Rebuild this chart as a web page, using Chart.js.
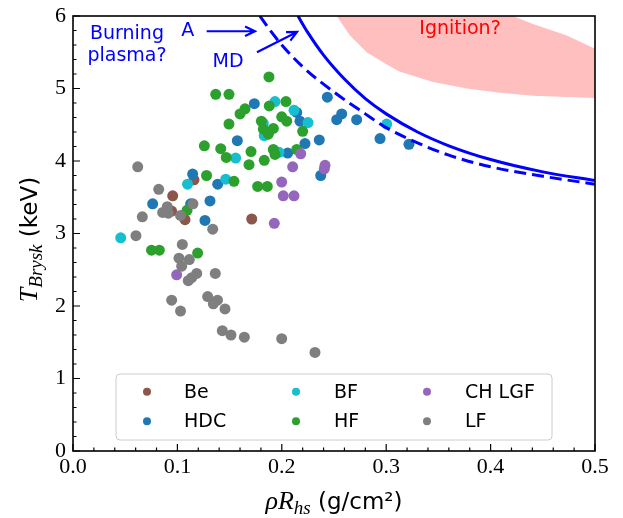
<!DOCTYPE html>
<html>
<head>
<meta charset="utf-8">
<script src="https://cdn.jsdelivr.net/npm/chart.js@4.4.0/dist/chart.umd.min.js"></script>
<style>
  html, body { margin: 0; padding: 0; background: #fff; }
</style>
</head>
<body>
<canvas id="mainChart" width="623" height="518"></canvas>
<script>
// ==================== DATA ====================

// shots, [rhoR (g/cm2), T (keV)]
const beData = [[0.0955,3.52],[0.1159,3.74],[0.0945,3.31],[0.1073,3.19],[0.1712,3.20]];
const hdcData = [[0.0763,3.41],[0.1146,3.82],[0.1127,3.41],[0.1264,3.18],[0.1312,3.45],[0.1386,3.68],
    [0.1574,4.28],[0.1737,4.79],[0.2056,4.11],[0.2143,4.67],[0.2174,4.55],[0.2222,4.24],[0.2359,4.29],
    [0.2373,3.80],[0.2436,4.88],[0.2526,4.57],[0.2574,4.65],[0.2717,4.57],[0.2941,4.31],[0.3218,4.23]];
const bfData = [[0.0457,2.94],[0.1097,3.68],[0.1463,3.75],[0.1558,4.04],[0.1832,4.35],[0.1823,4.52],
    [0.1935,4.82],[0.1973,4.12],[0.2117,4.70],[0.2251,4.53],[0.3005,4.51]];
const hfData = [[0.0752,2.77],[0.0827,2.77],[0.1194,2.73],[0.1092,3.32],[0.1279,3.80],[0.1542,3.72],
    [0.1769,3.65],[0.1861,3.65],[0.1258,4.21],[0.1415,4.17],[0.1468,4.05],[0.1686,3.95],[0.1705,4.13],
    [0.1832,4.01],[0.1494,4.51],[0.1367,4.92],[0.1494,4.92],[0.1877,5.16],[0.1648,4.72],[0.1600,4.65],
    [0.1880,4.76],[0.2040,4.82],[0.1804,4.55],[0.1823,4.44],[0.1871,4.37],[0.1919,4.45],[0.1999,4.61],
    [0.2047,4.55],[0.2200,4.41],[0.1919,4.16],[0.1935,4.09],[0.2143,4.16]];
const lgfData = [[0.0993,2.43],[0.1928,3.14],[0.1999,3.71],[0.2014,3.52],[0.2117,3.52],[0.2104,3.92],
    [0.2181,4.10],[0.2407,3.89],[0.2414,3.94]];
const lfData = [[0.0620,3.92],[0.0821,3.61],[0.0859,3.29],[0.0903,3.37],[0.0913,3.28],[0.1030,3.25],
    [0.0664,3.23],[0.1149,3.41],[0.1338,3.06],[0.0603,2.97],[0.1047,2.85],[0.1015,2.66],[0.1114,2.64],
    [0.1041,2.55],[0.1185,2.45],[0.1137,2.39],[0.1104,2.35],[0.1363,2.45],[0.0945,2.08],[0.1030,1.93],
    [0.1290,2.13],[0.1384,2.08],[0.1344,2.03],[0.1456,1.96],[0.1430,1.66],[0.1513,1.60],[0.1641,1.57],
    [0.1999,1.55],[0.2318,1.36]];

// threshold curves
const mdX = [0.2155, 0.225, 0.24, 0.26, 0.28, 0.30, 0.33, 0.36, 0.40, 0.45, 0.50];
const mdY = [6.0, 5.77, 5.46, 5.13, 4.86, 4.65, 4.40, 4.21, 4.02, 3.85, 3.73];
const aX = [0.179, 0.19, 0.20, 0.22, 0.25, 0.28, 0.30, 0.33, 0.36, 0.40, 0.45, 0.50];
const aY = [6.0, 5.78, 5.6, 5.3, 4.95, 4.65, 4.46, 4.25, 4.08, 3.92, 3.79, 3.68];

// ignition band edges
const ignLowX = [0.2526, 0.2653, 0.2813, 0.3005, 0.3132, 0.3448, 0.3771, 0.409, 0.4406, 0.5];
const ignLowY = [6.0, 5.73, 5.50, 5.33, 5.23, 5.09, 5.00, 4.94, 4.90, 4.87];
const ignHighX = [0.5, 0.473, 0.4406, 0.4215];
const ignHighY = [5.55, 5.73, 5.89, 6.0];

// axes
const xTicks = [0, 0.1, 0.2, 0.3, 0.4, 0.5];
const xTickLabels = ['0.0', '0.1', '0.2', '0.3', '0.4', '0.5'];
const yTicks = [0, 1, 2, 3, 4, 5, 6];
const yTickLabels = ['0', '1', '2', '3', '4', '5', '6'];

// legend
const groupLabels = ['Be', 'HDC', 'BF', 'HF', 'CH LGF', 'LF'];
const groupColors = ['#8c564b', '#1f77b4', '#17becf', '#2ca02c', '#9467bd', '#7f7f7f'];
const groupData = [beData, hdcData, bfData, hfData, lgfData, lfData];
const groupOrder = [6, 5, 4, 3, 2, 1];   // LF on top

const toPts = arr => arr.map(p => ({ x: p[0], y: p[1] }));
const zipPts = (xs, ys) => xs.map((v, i) => ({ x: v, y: ys[i] }));

const ignPolygon = zipPts(ignLowX, ignLowY).concat(zipPts(ignHighX, ignHighY));

const SERIF = '"Liberation Serif", "DejaVu Serif", serif';
const SANS = '"DejaVu Sans", sans-serif';

// ==================== HELPERS ====================

function runsWidth(ctx, runs) {
    let w = 0;
    runs.forEach(r => { ctx.font = r.font; w += ctx.measureText(r.text).width; });
    return w;
}

function drawRuns(ctx, runs, cx, cy) {
    let x = cx - runsWidth(ctx, runs) / 2;
    ctx.textAlign = 'left';
    ctx.textBaseline = 'alphabetic';
    runs.forEach(r => {
        ctx.font = r.font;
        ctx.fillText(r.text, x, cy + (r.dy || 0));
        x += ctx.measureText(r.text).width;
    });
}

function arrow(ctx, x1, y1, x2, y2) {
    const ang = Math.atan2(y2 - y1, x2 - x1);
    const len = 11, spread = 0.45;
    ctx.beginPath();
    ctx.moveTo(x1, y1);
    ctx.lineTo(x2, y2);
    ctx.moveTo(x2 - len * Math.cos(ang - spread), y2 - len * Math.sin(ang - spread));
    ctx.lineTo(x2, y2);
    ctx.lineTo(x2 - len * Math.cos(ang + spread), y2 - len * Math.sin(ang + spread));
    ctx.stroke();
}

// ==================== DECORATIONS ====================

const decor = {
    id: 'decor',
    afterDatasetsDraw(chart) {
        const { ctx, chartArea: a, scales: { x, y } } = chart;
        ctx.save();

        // annotations
        ctx.fillStyle = '#0000ff';
        ctx.strokeStyle = '#0000ff';
        ctx.lineWidth = 2.2;
        ctx.font = '19px ' + SANS;
        ctx.textAlign = 'center';
        ctx.textBaseline = 'middle';
        ctx.fillText('Burning', x.getPixelForValue(0.0517), y.getPixelForValue(5.75));
        ctx.fillText('plasma?', x.getPixelForValue(0.0517), y.getPixelForValue(5.45));
        ctx.fillText('A', x.getPixelForValue(0.110), y.getPixelForValue(5.79));
        ctx.fillText('MD', x.getPixelForValue(0.1485), y.getPixelForValue(5.36));
        arrow(ctx, x.getPixelForValue(0.128), y.getPixelForValue(5.79),
            x.getPixelForValue(0.1743), y.getPixelForValue(5.79));
        arrow(ctx, x.getPixelForValue(0.1762), y.getPixelForValue(5.50),
            x.getPixelForValue(0.2146), y.getPixelForValue(5.78));
        ctx.fillStyle = '#ff0000';
        ctx.fillText('Ignition?', x.getPixelForValue(0.3707), y.getPixelForValue(5.82));

        // legend box (lower center)
        const lw = 436, lh = 66;
        const lx = (a.left + a.right) / 2 - lw / 2, ly = a.bottom - 11 - lh;
        ctx.beginPath();
        ctx.roundRect(lx, ly, lw, lh, 4);
        ctx.fillStyle = 'rgba(255,255,255,0.8)';
        ctx.fill();
        ctx.strokeStyle = '#cccccc';
        ctx.lineWidth = 1;
        ctx.stroke();
        const colMark = [31, 180, 311], colText = [68, 218, 349], rowY = [17.7, 47.3];
        ctx.font = '19px ' + SANS;
        ctx.textAlign = 'left';
        ctx.textBaseline = 'middle';
        groupLabels.forEach((lab, i) => {
            const c = Math.floor(i / 2), r = i % 2;
            ctx.fillStyle = groupColors[i];
            ctx.beginPath();
            ctx.arc(lx + colMark[c], ly + rowY[r], 4, 0, Math.PI * 2);
            ctx.fill();
            ctx.fillStyle = '#000';
            ctx.fillText(lab, lx + colText[c], ly + rowY[r] + 1);
        });

        // frame
        ctx.strokeStyle = '#000';
        ctx.lineWidth = 1.6;
        ctx.strokeRect(a.left, a.top, a.right - a.left, a.bottom - a.top);

        // inward ticks, left and bottom
        ctx.lineWidth = 1.2;
        ctx.beginPath();
        for (let i = 0; i <= 25; i++) {
            const px = x.getPixelForValue(i * 0.02);
            const len = i % 5 === 0 ? 7 : 3.5;
            ctx.moveTo(px, a.bottom);
            ctx.lineTo(px, a.bottom - len);
        }
        for (let i = 0; i <= 30; i++) {
            const py = y.getPixelForValue(i * 0.2);
            const len = i % 5 === 0 ? 7 : 3.5;
            ctx.moveTo(a.left, py);
            ctx.lineTo(a.left + len, py);
        }
        ctx.stroke();

        // tick labels
        ctx.fillStyle = '#000';
        ctx.font = '22px ' + SERIF;
        ctx.textAlign = 'center';
        ctx.textBaseline = 'middle';
        xTicks.forEach((v, i) => ctx.fillText(xTickLabels[i], x.getPixelForValue(v), a.bottom + 16));
        ctx.textAlign = 'right';
        yTicks.forEach((v, i) => ctx.fillText(yTickLabels[i], a.left - 7, y.getPixelForValue(v)));

        // axis titles
        const italic = 'italic 26px ' + SERIF, sub = 'italic 19px ' + SERIF, sans = '23px ' + SANS;
        drawRuns(ctx, [
            { text: 'ρR', font: italic },
            { text: 'hs', font: sub, dy: 5 },
            { text: ' (g/cm²)', font: sans }
        ], (a.left + a.right) / 2, a.bottom + 58);

        ctx.translate(a.left - 44, (a.top + a.bottom) / 2 + 6);
        ctx.rotate(-Math.PI / 2);
        drawRuns(ctx, [
            { text: 'T', font: italic },
            { text: 'Brysk', font: sub, dy: 5 },
            { text: ' (keV)', font: sans }
        ], 0, 8);

        ctx.restore();
    }
};

// ==================== CHART ====================

const datasets = groupLabels.map((lab, i) => ({
    label: lab,
    data: toPts(groupData[i]),
    backgroundColor: groupColors[i],
    borderWidth: 0,
    pointRadius: 5.5,
    pointHoverRadius: 5.5,
    order: groupOrder[i]
}));

datasets.push({
    label: 'MD',
    data: zipPts(mdX, mdY),
    showLine: true,
    borderColor: '#0000ff',
    borderWidth: 3,
    pointRadius: 0,
    cubicInterpolationMode: 'monotone',
    order: 0
});
datasets.push({
    label: 'A',
    data: zipPts(aX, aY),
    showLine: true,
    borderColor: '#0000ff',
    borderWidth: 3,
    borderDash: [12, 6],
    pointRadius: 0,
    cubicInterpolationMode: 'monotone',
    order: 0
});
datasets.push({
    label: 'Ignition',
    data: ignPolygon,
    showLine: true,
    borderWidth: 0,
    borderColor: 'rgba(0,0,0,0)',
    backgroundColor: '#ffbfbf',
    fill: 'shape',
    pointRadius: 0,
    tension: 0,
    order: 10
});

const ctx = document.getElementById('mainChart').getContext('2d');
new Chart(ctx, {
    type: 'scatter',
    data: { datasets },
    options: {
        responsive: false,
        devicePixelRatio: 1,
        animation: false,
        events: [],
        layout: { padding: { top: 16, right: 28, left: 0, bottom: 0 } },
        plugins: {
            legend: { display: false },
            tooltip: { enabled: false }
        },
        scales: {
            x: {
                type: 'linear', min: 0, max: 0.5,
                ticks: { display: false },
                grid: { display: false },
                border: { display: false },
                afterFit: s => { s.height = 67; }
            },
            y: {
                type: 'linear', min: 0, max: 6,
                ticks: { display: false },
                grid: { display: false },
                border: { display: false },
                afterFit: s => { s.width = 73; }
            }
        }
    },
    plugins: [decor]
});
</script>
</body>
</html>
